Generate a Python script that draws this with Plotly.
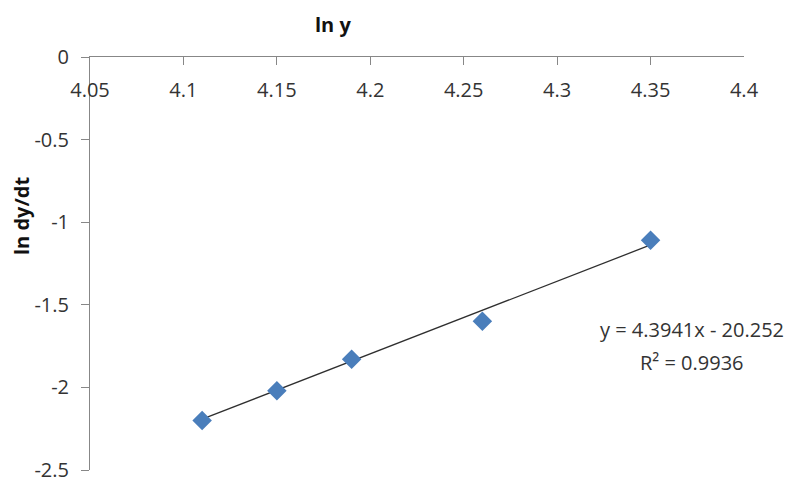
import plotly.graph_objects as go

# Data
ln_y = [4.11, 4.15, 4.19, 4.26, 4.35]
ln_dydt = [-2.20, -2.02, -1.83, -1.60, -1.11]

# Linear trendline as reported on the chart
slope = 4.3941
intercept = -20.252
r_squared = 0.9936

x_ticks = [4.05, 4.10, 4.15, 4.20, 4.25, 4.30, 4.35, 4.40]
x_tick_labels = ["4.05", "4.1", "4.15", "4.2", "4.25", "4.3", "4.35", "4.4"]
y_ticks = [0, -0.5, -1, -1.5, -2, -2.5]
y_tick_labels = ["0", "-0.5", "-1", "-1.5", "-2", "-2.5"]

FONT = "Open Sans"
AXIS_GRAY = "#878787"
TEXT = "#333333"

x_fit = [min(ln_y), max(ln_y)]
y_fit = [slope * v + intercept for v in x_fit]

fig = go.Figure()
fig.add_trace(go.Scatter(
    x=x_fit, y=y_fit, mode="lines",
    line=dict(color="#2f2f2f", width=1.3),
    showlegend=False, hoverinfo="skip",
))
fig.add_trace(go.Scatter(
    x=ln_y, y=ln_dydt, mode="markers",
    marker=dict(symbol="diamond", size=15, color="#4A7EBB",
                line=dict(width=0)),
    showlegend=False,
))

fig.update_layout(
    width=789, height=483,
    margin=dict(l=90, r=45, t=57, b=13),
    paper_bgcolor="white", plot_bgcolor="white",
    font=dict(family=FONT, size=20, color=TEXT),
    xaxis=dict(
        range=[4.05, 4.4], side="top", automargin=False,
        tickmode="array", tickvals=x_ticks, ticktext=x_tick_labels,
        ticks="inside", ticklen=8, tickcolor=AXIS_GRAY, tickwidth=1,
        ticklabelposition="inside", ticklabelstandoff=19,
        ticklabeloverflow="allow",
        showline=True, linecolor=AXIS_GRAY, linewidth=1,
        showgrid=False, zeroline=False,
        tickfont=dict(family=FONT, size=20, color=TEXT),
    ),
    yaxis=dict(
        range=[-2.5, 0], automargin=False,
        tickmode="array", tickvals=y_ticks, ticktext=y_tick_labels,
        ticks="outside", ticklen=8, tickcolor=AXIS_GRAY, tickwidth=1,
        ticklabelstandoff=8, ticklabeloverflow="allow",
        showline=True, linecolor=AXIS_GRAY, linewidth=1,
        showgrid=False, zeroline=False,
        tickfont=dict(family=FONT, size=20, color=TEXT),
    ),
    annotations=[
        dict(text="<b>ln y</b>", xref="paper", yref="paper",
             x=0.3716, y=1.0775, showarrow=False,
             xanchor="center", yanchor="middle",
             font=dict(family=FONT, size=20, color="#111111")),
        dict(text="<b>ln dy/dt</b>", xref="paper", yref="paper",
             x=-0.1055, y=0.615, showarrow=False, textangle=-90,
             xanchor="center", yanchor="middle",
             font=dict(family=FONT, size=20, color="#111111")),
        dict(text=f"y = {slope}x - {abs(intercept)}", xref="paper", yref="paper",
             x=0.9205, y=0.339, showarrow=False,
             xanchor="center", yanchor="middle",
             font=dict(family=FONT, size=20, color=TEXT)),
        dict(text=f"R² = {r_squared}", xref="paper", yref="paper",
             x=0.9205, y=0.2615, showarrow=False,
             xanchor="center", yanchor="middle",
             font=dict(family=FONT, size=20, color=TEXT)),
    ],
)

fig.write_html("out.html", config={"displayModeBar": False},
               post_script="document.body.style.margin='0';")
